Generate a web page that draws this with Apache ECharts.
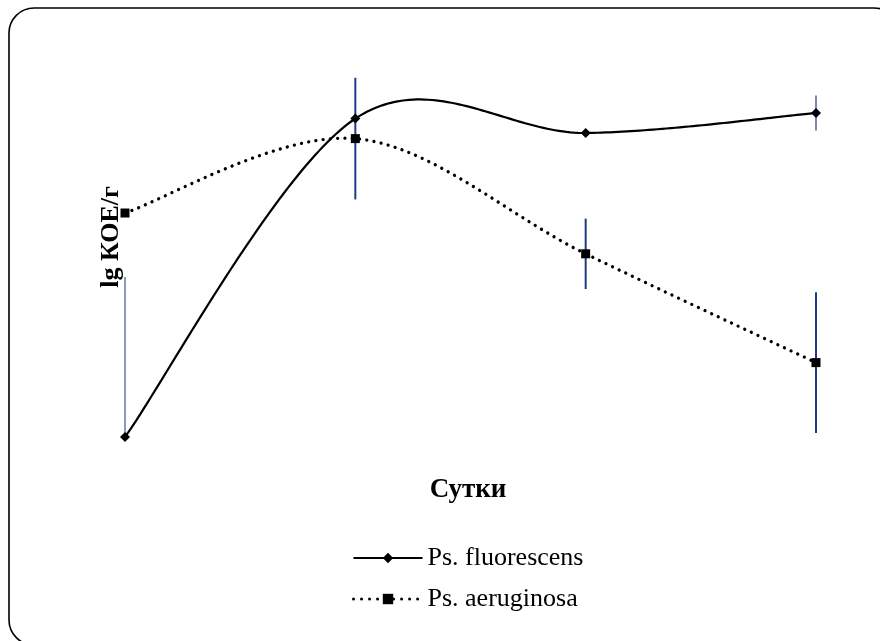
<!DOCTYPE html>
<html>
<head>
<meta charset="utf-8">
<script src="https://cdn.jsdelivr.net/npm/echarts@6/dist/echarts.min.js"></script>
<style>html,body{margin:0;padding:0;background:#fff}#c{width:880px;height:641px}</style>
</head>
<body>
<div id="c"></div>
<script>
var categories = ['1', '2', '3', '4'];
var fluorescens = [4.0, 7.98, 7.8, 8.05];
var fluorescensErr = [2.0, 0.0, 0.0, 0.22];
var aeruginosa = [6.8, 7.73, 6.29, 4.93];
var aeruginosaErr = [0.0, 0.76, 0.44, 0.88];
var seriesNames = ['Ps. fluorescens', 'Ps. aeruginosa'];
var yTitle = 'lg КОЕ/г';
var xTitle = 'Сутки';

var font = '"Liberation Serif", "Times New Roman", serif';
var chart = echarts.init(document.getElementById('c'));

function errData(vals, errs) {
  return vals.map(function (v, i) { return [i, v - errs[i], v + errs[i]]; }).filter(function (d) { return d[2] > d[1]; });
}
function errSeries(vals, errs, widths) {
  return {
    type: 'custom',
    silent: true,
    clip: false,
    z: 1,
    data: errData(vals, errs),
    renderItem: function (params, api) {
      var cs = params.coordSys;
      var lo = api.coord([api.value(0), api.value(1)]);
      var hi = api.coord([api.value(0), api.value(2)]);
      var y1 = Math.min(Math.max(lo[1], cs.y), cs.y + cs.height);
      var y2 = Math.min(Math.max(hi[1], cs.y), cs.y + cs.height);
      var idx = api.value(0);
      return {
        type: 'line',
        shape: { x1: lo[0], y1: y1, x2: hi[0], y2: y2 },
        style: { stroke: idx === 0 ? '#3a5596' : '#1f3a82', lineWidth: widths[idx] }
      };
    }
  };
}

// Excel-style smoothed curve (cubic Bezier, control points at 1/6 of neighbour span), in pixel space
function curveSeries(vals, lineStyle) {
  return {
    type: 'custom',
    silent: true,
    clip: false,
    z: 2,
    data: [[0]],
    renderItem: function (params, api) {
      var p = vals.map(function (v, i) { return api.coord([i, v]); });
      var pts = [];
      var n = p.length;
      for (var i = 0; i < n - 1; i++) {
        var p0 = p[Math.max(i - 1, 0)], p1 = p[i], p2 = p[i + 1], p3 = p[Math.min(i + 2, n - 1)];
        var c1 = [p1[0] + (p2[0] - p0[0]) / 6, p1[1] + (p2[1] - p0[1]) / 6];
        var c2 = [p2[0] - (p3[0] - p1[0]) / 6, p2[1] - (p3[1] - p1[1]) / 6];
        var steps = 60;
        for (var s = (i === 0 ? 0 : 1); s <= steps; s++) {
          var t = s / steps, u = 1 - t;
          pts.push([
            u * u * u * p1[0] + 3 * u * u * t * c1[0] + 3 * u * t * t * c2[0] + t * t * t * p2[0],
            u * u * u * p1[1] + 3 * u * u * t * c1[1] + 3 * u * t * t * c2[1] + t * t * t * p2[1]
          ]);
        }
      }
      return { type: 'polyline', shape: { points: pts }, style: lineStyle };
    }
  };
}

chart.setOption({
  animation: false,
  backgroundColor: '#fff',
  grid: { left: 125, right: 64, top: 37, bottom: 204 },
  xAxis: {
    type: 'category', data: categories, boundaryGap: false,
    axisLine: { show: false }, axisTick: { show: false }, axisLabel: { show: false }, splitLine: { show: false }
  },
  yAxis: {
    type: 'value', min: 4, max: 9,
    axisLine: { show: false }, axisTick: { show: false }, axisLabel: { show: false }, splitLine: { show: false }
  },
  legend: {
    orient: 'vertical', left: 347, top: 540, itemGap: 15, itemWidth: 69, itemHeight: 13,
    textStyle: { fontFamily: font, fontSize: 26, color: '#000' },
    data: [
      { name: seriesNames[0], lineStyle: { opacity: 1, color: '#000', width: 2.2 } },
      { name: seriesNames[1], lineStyle: { opacity: 1, color: '#000', width: 3, type: [0.01, 8], cap: 'round' } }
    ]
  },
  graphic: [
    { type: 'rect', shape: { x: 9, y: 8, width: 890, height: 637, r: 25 }, style: { fill: 'none', stroke: '#000', lineWidth: 1.6 }, z: 100 },
    { type: 'text', x: 111, y: 237, rotation: Math.PI / 2, style: { text: yTitle, font: 'bold 26px ' + font, fill: '#000', align: 'center', verticalAlign: 'middle' } },
    { type: 'text', x: 468, y: 490, style: { text: xTitle, font: 'bold 27px ' + font, fill: '#000', align: 'center', verticalAlign: 'middle' } }
  ],
  series: [
    errSeries(fluorescens, fluorescensErr, [1.2, 2, 2, 1.2]),
    errSeries(aeruginosa, aeruginosaErr, [1.2, 2, 2, 2]),
    curveSeries(fluorescens, { stroke: '#000', lineWidth: 2.2, fill: null }),
    curveSeries(aeruginosa, { stroke: '#000', lineWidth: 3.3, fill: null, lineDash: [0.01, 7.3], lineCap: 'round' }),
    {
      name: seriesNames[0], type: 'line', data: fluorescens, z: 3,
      symbol: 'diamond', symbolSize: 10,
      itemStyle: { color: '#000' },
      lineStyle: { color: '#000', width: 2, opacity: 0 }
    },
    {
      name: seriesNames[1], type: 'line', data: aeruginosa, z: 3,
      symbol: 'rect', symbolSize: 9,
      itemStyle: { color: '#000' },
      lineStyle: { color: '#000', width: 2.5, opacity: 0 }
    }
  ]
});
</script>
</body>
</html>
